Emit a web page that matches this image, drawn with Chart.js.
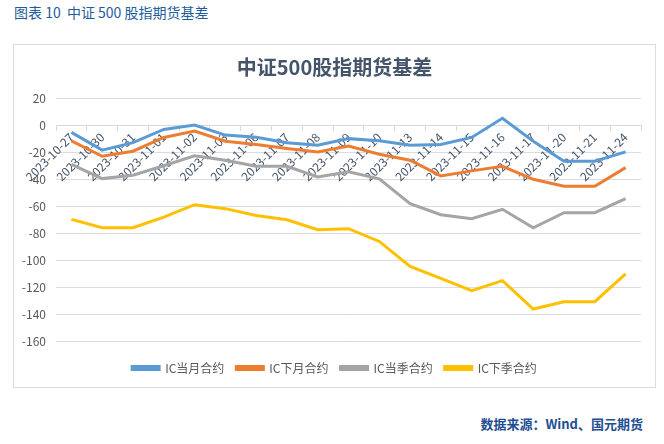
<!DOCTYPE html>
<html>
<head>
<meta charset="utf-8">
<script src="https://cdn.jsdelivr.net/npm/chart.js@4/dist/chart.umd.min.js"></script>
<style>
  body { margin: 0; width: 664px; height: 444px; background: #fff; position: relative; overflow: hidden;
         font-family: "Noto Sans CJK SC", "Liberation Sans", sans-serif; }
  #heading { position: absolute; left: 14px; top: 2px; font-size: 14px; color: #1f5c9a; }
  #source { position: absolute; right: 21px; top: 414px; font-size: 13px; font-weight: bold; color: #1f4e91; }
  #box { position: absolute; left: 13px; top: 44px; width: 641px; height: 342px; border: 1px solid #d9dde3; }
</style>
</head>
<body>
<div id="heading">图表 10&nbsp;&nbsp;中证 500 股指期货基差</div>
<div id="box"><canvas id="myChart"></canvas></div>
<div id="source">数据来源：Wind、国元期货</div>
<script>
const dates = ['2023-10-27', '2023-10-30', '2023-10-31', '2023-11-01', '2023-11-02', '2023-11-03',
  '2023-11-06', '2023-11-07', '2023-11-08', '2023-11-09', '2023-11-10', '2023-11-13', '2023-11-14',
  '2023-11-15', '2023-11-16', '2023-11-17', '2023-11-20', '2023-11-21', '2023-11-24'];
const icCurMonth = [-5.4, -18.5, -13, -3.2, 0, -7.4, -9, -13, -14.8, -10, -11.6, -14.8, -14.3, -9.1, 5, -11.9, -26.7, -26.7, -19.8];
const icNextMonth = [-11.6, -23, -19.3, -9.1, -4.4, -11.9, -14.3, -17.3, -19.8, -15.5, -21.5, -25.9, -37.5, -33.8, -30.4, -40, -45.2, -45.2, -31.4];
const icCurQuarter = [-29, -39.5, -37, -30, -22.7, -25.9, -30.4, -30.4, -38.3, -34.5, -39.7, -58, -66.2, -69.1, -62.2, -75.8, -64.7, -64.7, -54.3];
const icNextQuarter = [-69.6, -75.8, -75.8, -67.9, -58.8, -61.7, -66.7, -69.9, -77.3, -76.5, -85.9, -104.4, -113.1, -122.2, -114.8, -135.8, -130.4, -130.4, -109.9];
const yTicks = [20, 0, -20, -40, -60, -80, -100, -120, -140, -160];

Chart.defaults.font.family = '"Noto Sans CJK SC", "Liberation Sans", sans-serif';
Chart.defaults.color = '#595959';

function series(label, data, color) {
  return {
    label: label,
    data: data,
    borderColor: color,
    backgroundColor: color,
    borderWidth: 3,
    pointRadius: 0,
    tension: 0
  };
}

const ctx = document.getElementById('myChart').getContext('2d');
const myChart = new Chart(ctx, {
  type: 'line',
  data: {
    labels: dates,
    datasets: [
      series('IC当月合约', icCurMonth, '#5b9bd5'),
      series('IC下月合约', icNextMonth, '#ed7d31'),
      series('IC当季合约', icCurQuarter, '#a5a5a5'),
      series('IC下季合约', icNextQuarter, '#ffc000')
    ]
  },
  options: {
    responsive: true,
    maintainAspectRatio: false,
    animation: false,
    layout: { padding: { left: 0, right: 0, top: 0, bottom: 3 } },
    plugins: {
      title: {
        display: true,
        text: '中证500股指期货基差',
        color: '#44546a',
        font: { size: 20, weight: 'bold' },
        padding: { top: 10, bottom: 19 }
      },
      legend: {
        position: 'bottom',
        title: { display: true, text: ' ', font: { size: 1 }, padding: { top: 0, bottom: 7 } },
        labels: {
          boxWidth: 27,
          boxHeight: 3,
          color: '#595959',
          font: { size: 12 },
          padding: 12
        }
      },
      tooltip: { enabled: false }
    },
    scales: {
      x: {
        position: { y: 0 },
        offset: true,
        grid: { display: true, drawOnChartArea: false, tickLength: 5, color: '#d9d9d9', offset: true },
        border: { color: '#d9d9d9' },
        ticks: { minRotation: 45, maxRotation: 45, color: '#44546a', font: { size: 12 }, autoSkip: false, padding: 0 }
      },
      y: {
        min: -160,
        max: 20,
        afterBuildTicks: function (axis) { axis.ticks = yTicks.map(v => ({ value: v })); },
        afterFit: function (axis) { axis.width = 42; },
        grid: { color: '#d9dde3', drawTicks: false },
        border: { display: false },
        ticks: { color: '#595959', font: { size: 12 }, padding: 10 }
      },
      gap: {
        type: 'linear',
        position: 'right',
        afterFit: function (axis) { axis.width = 14; },
        grid: { drawOnChartArea: false, drawTicks: false },
        border: { display: false },
        ticks: { display: false }
      }
    }
  }
});
</script>
</body>
</html>
